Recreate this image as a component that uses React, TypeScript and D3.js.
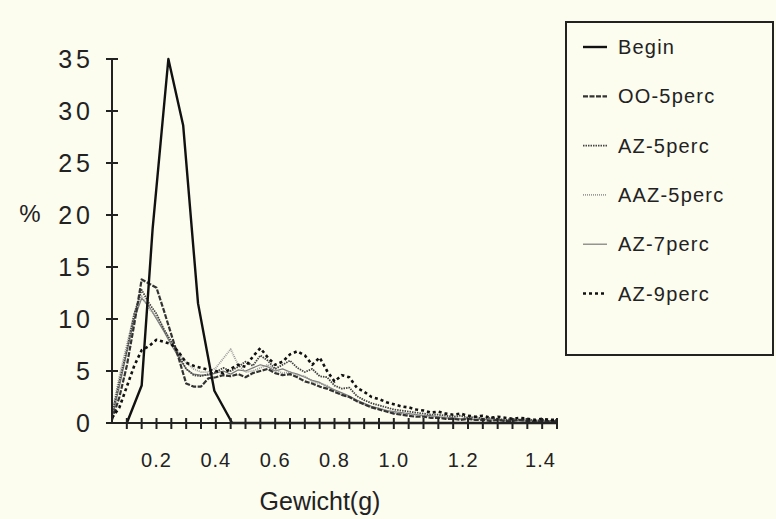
import React from "react";
import * as d3 from "d3";

// x grid: 0.05 .. 1.55 in steps of 0.025 (61 points)
const xGrid = d3.range(0, 61).map((i) => +(0.05 + i * 0.025).toFixed(3));

const beginX = [0.1, 0.15, 0.187, 0.24, 0.29, 0.34, 0.395, 0.455, 0.6, 0.8, 1.0, 1.2, 1.4, 1.55];
const beginY = [0, 3.6, 18.7, 35, 28.6, 11.5, 3.1, 0, 0, 0, 0, 0, 0, 0];

const oo5 = [0.3, 2.5, 5.5, 9.5, 13.8, 13.4, 13.0, 10.8, 8.5, 6.2, 3.8, 3.5, 3.5, 4.3, 4.4, 4.6, 4.5, 4.7, 4.4, 4.8,
  5.0, 5.2, 4.8, 4.6, 4.7, 4.4, 4.0, 3.8, 3.5, 3.3, 3.0, 2.7, 2.5, 2.1, 1.8, 1.5, 1.3, 1.1, 0.9, 0.8,
  0.7, 0.6, 0.6, 0.5, 0.5, 0.4, 0.4, 0.3, 0.4, 0.3, 0.3, 0.2, 0.3, 0.2, 0.2, 0.3, 0.2, 0.1, 0.2, 0.1, 0.2];

const az5 = [0.8, 4.0, 7.0, 10.5, 12.8, 11.5, 10.5, 9.0, 7.8, 6.5, 5.2, 4.6, 4.5, 4.7, 4.9, 5.3, 5.0, 5.4, 5.9, 5.5,
  6.5, 6.0, 5.2, 5.6, 6.0, 5.3, 4.9, 5.2, 4.5, 4.4, 3.6, 3.3, 3.4, 2.6, 2.2, 1.9, 1.7, 1.5, 1.3, 1.2,
  1.1, 1.0, 0.9, 0.8, 0.8, 0.7, 0.6, 0.7, 0.5, 0.6, 0.4, 0.5, 0.4, 0.3, 0.4, 0.3, 0.4, 0.2, 0.3, 0.2, 0.3];

const aaz5 = [1.0, 4.5, 7.5, 10.5, 12.2, 11.0, 10.2, 9.0, 7.8, 6.8, 5.8, 5.2, 4.9, 4.9, 5.3, 6.2, 7.1, 5.6, 4.9, 5.0,
  5.3, 5.6, 5.1, 4.8, 4.9, 4.6, 4.5, 4.0, 3.8, 3.6, 3.1, 2.7, 2.5, 2.1, 1.8, 1.5, 1.4, 1.2, 1.0, 0.9,
  0.8, 0.8, 0.7, 0.6, 0.6, 0.5, 0.5, 0.4, 0.5, 0.4, 0.3, 0.4, 0.3, 0.3, 0.2, 0.3, 0.2, 0.3, 0.2, 0.2, 0.2];

const az7 = [0.5, 3.5, 6.8, 10.0, 12.0, 11.2, 10.0, 8.8, 7.5, 6.3, 5.2, 4.7, 4.6, 4.6, 4.8, 5.0, 4.7, 5.1, 5.0, 5.3,
  5.6, 5.4, 5.0, 5.2, 4.9, 4.7, 4.4, 4.1, 3.9, 3.5, 3.2, 2.9, 2.6, 2.2, 1.9, 1.6, 1.4, 1.2, 1.1, 1.0,
  0.9, 0.8, 0.7, 0.7, 0.6, 0.5, 0.5, 0.4, 0.4, 0.3, 0.4, 0.3, 0.3, 0.2, 0.3, 0.2, 0.2, 0.2, 0.1, 0.2, 0.1];

const az9 = [0.5, 1.5, 3.5, 5.5, 7.0, 7.4, 8.0, 7.8, 7.6, 6.8, 5.8, 5.5, 5.3, 5.1, 5.0, 4.8, 5.2, 5.6, 5.4, 6.4,
  7.2, 6.3, 5.6, 5.9, 6.6, 6.9, 6.5, 5.6, 6.3, 5.0, 4.0, 4.6, 4.4, 3.4, 3.0, 2.5, 2.3, 2.0, 1.8, 1.6,
  1.5, 1.3, 1.2, 1.0, 1.1, 0.9, 0.8, 0.9, 0.7, 0.6, 0.7, 0.5, 0.6, 0.5, 0.4, 0.5, 0.4, 0.3, 0.4, 0.3, 0.3];

const seriesNames = ["Begin", "OO-5perc", "AZ-5perc", "AAZ-5perc", "AZ-7perc", "AZ-9perc"];
const yTicks = [0, 5, 10, 15, 20, 25, 30, 35];
const xTickLabels = [0.2, 0.4, 0.6, 0.8, 1.0, 1.2, 1.4];
// the last two labels sit a bit to the right in the original print
const xLabelShift = [0, 0, 0, 0, 0, 10, 28];

const styles = [
  { stroke: "#111", width: 2.4, dash: "" },
  { stroke: "#333", width: 2.2, dash: "5,1.5" },
  { stroke: "#444", width: 1.8, dash: "1.5,1" },
  { stroke: "#9a9a9a", width: 1.8, dash: "1,1" },
  { stroke: "#7a7a7a", width: 1.2, dash: "" },
  { stroke: "#111", width: 2.6, dash: "3,3" },
];

export default function App() {
  const x = d3.scaleLinear().domain([0.05, 1.55]).range([112, 557]);
  const y = d3.scaleLinear().domain([0, 35]).range([423, 59]);
  const line = d3.line<[number, number]>().x((d) => x(d[0])).y((d) => y(d[1]));

  const data: [number, number][][] = [
    beginX.map((v, i) => [v, beginY[i]]),
    ...[oo5, az5, aaz5, az7, az9].map((s) => s.map((v, i) => [xGrid[i], v] as [number, number])),
  ];
  const drawOrder = [4, 3, 2, 1, 5, 0];
  const xTicks = d3.range(2, 32).map((i) => i * 0.05);
  const font = "'Liberation Sans', Arial, Helvetica, sans-serif";

  return (
    <svg width={776} height={519} style={{ position: "absolute", left: 0, top: 0, background: "#fcfcef" }} fontFamily={font}>
      <rect width={776} height={519} fill="#fcfcef" />
      {drawOrder.map((k) => (
        <path key={k} d={line(data[k]) || ""} fill="none" stroke={styles[k].stroke} strokeWidth={styles[k].width}
          strokeDasharray={styles[k].dash} strokeLinejoin="round" />
      ))}
      {/* y axis */}
      <line x1={x(0.05)} x2={x(0.05)} y1={y(35)} y2={y(0)} stroke="#222" strokeWidth={2} />
      {yTicks.map((t) => (
        <g key={t}>
          <line x1={x(0.05) - 6} x2={t === 0 ? x(0.05) : x(0.05) + 6} y1={y(t)} y2={y(t)} stroke="#222" strokeWidth={2} />
          <text x={94} y={y(t) + 9} textAnchor="end" fontSize={25} letterSpacing={4} fill="#222">{t}</text>
        </g>
      ))}
      {/* x axis */}
      <line x1={x(0.05)} x2={x(1.55)} y1={y(0)} y2={y(0)} stroke="#222" strokeWidth={2} />
      {xTicks.map((t, i) => (
        <line key={i} x1={x(t)} x2={x(t)} y1={y(0) - 5} y2={y(0) + 6} stroke="#222" strokeWidth={2} />
      ))}
      {xTickLabels.map((t, i) => (
        <text key={t} x={x(t) + xLabelShift[i]} y={467} textAnchor="middle" fontSize={20} letterSpacing={1} fill="#222">{t.toFixed(1)}</text>
      ))}
      <text x={320} y={510} textAnchor="middle" fontSize={25} fill="#222">Gewicht(g)</text>
      <text x={30} y={222} textAnchor="middle" fontSize={24} fill="#222">%</text>
      {/* legend */}
      <rect x={566} y={22} width={207} height={333} fill="none" stroke="#222" strokeWidth={2} />
      {seriesNames.map((n, i) => {
        const ly = 47 + i * 49.3;
        return (
          <g key={n}>
            <line x1={583} x2={607} y1={ly} y2={ly} stroke={styles[i].stroke} strokeWidth={styles[i].width}
              strokeDasharray={styles[i].dash} />
            <text x={618} y={ly + 7} fontSize={20} letterSpacing={1.2} fill="#222">{n}</text>
          </g>
        );
      })}
    </svg>
  );
}
